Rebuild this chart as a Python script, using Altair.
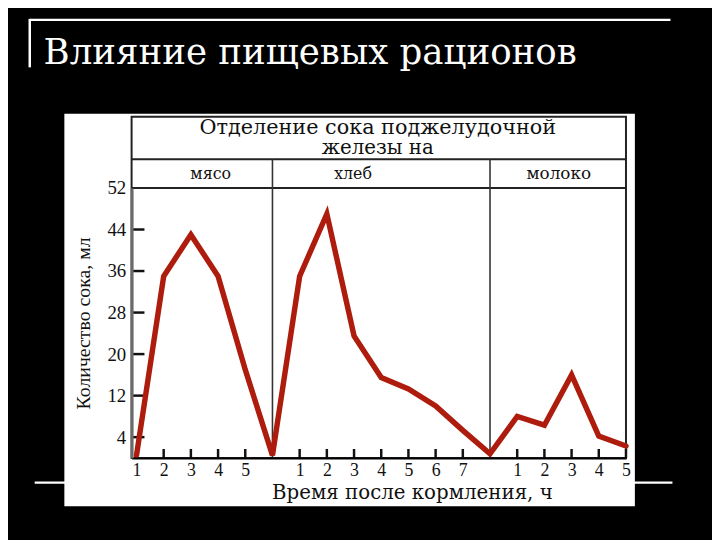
import altair as alt
import pandas as pd

# ---------------- data ----------------
title_text = "Влияние пищевых рационов"
header_line1 = "Отделение сока поджелудочной"
header_line2 = "железы на"
foods = ["мясо", "хлеб", "молоко"]
food_offsets = [0, 6, 14]          # global hour where each food block starts
food_block_ends = [6, 14]          # dividers between blocks
meat_hours = [1, 2, 3, 4, 5, 6]
meat_values = [0.5, 35, 43, 35, 17, 0.5]
bread_hours = [1, 2, 3, 4, 5, 6, 7, 8]
bread_values = [35, 47, 23.5, 15.5, 13.3, 10, 5.3, 0.8]
milk_hours = [1, 2, 3, 4, 5]
milk_values = [8, 6.3, 16, 4.2, 2.3]
x_tick_hours = [[1, 2, 3, 4, 5], [1, 2, 3, 4, 5, 6, 7], [1, 2, 3, 4, 5]]
y_ticks = [4, 12, 20, 28, 36, 44, 52]
y_inner_ticks = [4, 12, 20, 28, 36, 44]
y_title = "Количество сока, мл"
x_title = "Время после кормления, ч"

# ---------------- tables ----------------
rows = []
for off, hrs, vals in zip(food_offsets, [meat_hours, bread_hours, milk_hours],
                          [meat_values, bread_values, milk_values]):
    for h, v in zip(hrs, vals):
        rows.append({"g": off + h, "v": v})
line_df = pd.DataFrame(rows)
line_df["order"] = range(len(line_df))

xtick_vals = [off + h for off, hs in zip(food_offsets, x_tick_hours) for h in hs]
xtick_df = pd.DataFrame({"g": xtick_vals})
ytick_df = pd.DataFrame({"v": y_inner_ticks})
div_df = pd.DataFrame({"g": food_block_ends})
one = pd.DataFrame({"k": [0]})

SERIF = "Liberation Serif"
WIDE = "DejaVu Serif"
W, H = 500, 273

xscale = alt.Scale(domain=[0.82, 19], nice=False, zero=False)
yscale = alt.Scale(domain=[0, 52], nice=False, zero=True)

label_expr = ("datum.value <= 6 ? datum.value : "
              "(datum.value <= 14 ? datum.value - 6 : datum.value - 14)")

xaxis = alt.Axis(values=xtick_vals, labelExpr=label_expr, title=None, grid=False,
                 ticks=False, domain=True, domainColor="black", domainWidth=2,
                 labelFont=SERIF, labelFontSize=18, labelColor="#111",
                 labelPadding=4, labelFlush=False, labelOverlap=False, zindex=1)
yaxis = alt.Axis(values=y_ticks, title=None, grid=False, ticks=False,
                 domain=True, domainColor="#6a6a6a", domainWidth=3,
                 labelFont=SERIF, labelFontSize=19, labelColor="#111",
                 labelPadding=6, labelFlush=False, labelOverlap=False, zindex=1)

def X(field="g:Q"):
    return alt.X(field, scale=xscale, axis=xaxis)

def Y(field="v:Q"):
    return alt.Y(field, scale=yscale, axis=yaxis)

base = alt.Chart(one)

# white decorative lines on black background
top_line = base.mark_rule(color="white", strokeWidth=2.5).encode(
    x=alt.value(-103), x2=alt.value(545), y=alt.value(-170))
left_line = base.mark_rule(color="white", strokeWidth=2.5).encode(
    x=alt.value(-103), y=alt.value(-171), y2=alt.value(-122))
bottom_line = base.mark_rule(color="white", strokeWidth=2.5).encode(
    x=alt.value(-98), x2=alt.value(547), y=alt.value(298))

# white panel of the scanned figure
panel = base.mark_rect(color="white").encode(
    x=alt.value(-68), x2=alt.value(509), y=alt.value(-75), y2=alt.value(322))

# frame of the figure
frame = base.mark_rect(fill=None, stroke="#222", strokeWidth=2).encode(
    x=alt.value(0), x2=alt.value(W), y=alt.value(-72), y2=alt.value(H))
row_line1 = base.mark_rule(color="#222", strokeWidth=2).encode(
    x=alt.value(0), x2=alt.value(W), y=alt.value(-29))
row_line2 = base.mark_rule(color="#222", strokeWidth=2).encode(
    x=alt.value(0), x2=alt.value(W), y=alt.value(0))

dividers = alt.Chart(div_df).mark_rule(color="#333", strokeWidth=1.6).encode(
    x=X(), y=alt.value(-29), y2=alt.value(H))

xticks = alt.Chart(xtick_df).mark_rule(color="#111", strokeWidth=2.5).encode(
    x=X(), y=alt.value(H - 9), y2=alt.value(H))
yticks = alt.Chart(ytick_df).mark_rule(color="#111", strokeWidth=2.5).encode(
    y=Y(), x=alt.value(0), x2=alt.value(13))

curve = alt.Chart(line_df).mark_line(color="#ad1c0c", strokeWidth=5.5,
                                     strokeJoin="miter", strokeCap="round").encode(
    x=X(), y=Y(), order="order:Q")

def txt(text, x, y, size, color="#111", angle=0, align="center", baseline="middle", font=SERIF):
    return alt.Chart(pd.DataFrame({"t": [text]})).mark_text(
        font=font, fontSize=size, color=color, angle=angle, align=align,
        baseline=baseline).encode(text="t:N", x=alt.value(x), y=alt.value(y))

texts = [
    txt(title_text, -89, -125, 36, color="white", align="left", baseline="alphabetic", font=WIDE),
    txt(header_line1, 249, -61, 21, font=WIDE),
    txt(header_line2, 249, -40, 20, font=WIDE),
    txt(foods[0], 80, -14, 16, font=WIDE),
    txt(foods[1], 224, -14, 16, font=WIDE),
    txt(foods[2], 432, -14, 17, font=WIDE),
    txt(y_title, -48, 137, 20, angle=270),
    txt(x_title, 284, 309, 20, font=WIDE),
]

chart = alt.layer(
    top_line, left_line, bottom_line, panel, frame, row_line1, row_line2,
    dividers, xticks, yticks, curve, *texts
).properties(
    width=W, height=H,
    padding={"left": 125, "top": 179, "right": 87, "bottom": 80},
    autosize=alt.AutoSizeParams(type="none"),
    background="black",
).configure_view(stroke=None)

chart.save("out.html", embed_options={"renderer": "svg", "actions": False})
